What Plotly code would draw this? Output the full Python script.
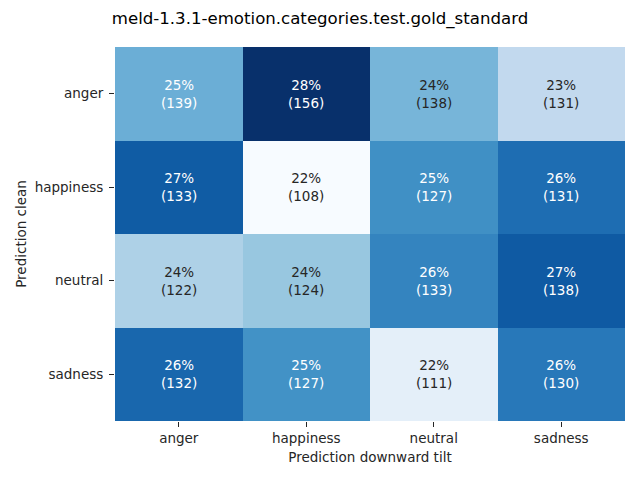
import plotly.graph_objects as go

categories = ["anger", "happiness", "neutral", "sadness"]
counts = [
    [139, 156, 138, 131],
    [133, 108, 127, 131],
    [122, 124, 133, 138],
    [132, 127, 111, 130],
]
title_text = "meld-1.3.1-emotion.categories.test.gold_standard"
x_label = "Prediction downward tilt"
y_label = "Prediction clean"

blues = ["#f7fbff", "#deebf7", "#c6dbef", "#9ecae1", "#6baed6",
         "#4292c6", "#2171b5", "#08519c", "#08306b"]
colorscale = [[i / 8, c] for i, c in enumerate(blues)]

pct = [[v / sum(row) * 100 for v in row] for row in counts]
vmin = min(min(r) for r in pct)
vmax = max(max(r) for r in pct)


def hex2rgb(h):
    return [int(h[i:i + 2], 16) for i in (1, 3, 5)]


def color_at(t):
    t = max(0.0, min(1.0, t)) * 8
    i = min(int(t), 7)
    f = t - i
    a, b = hex2rgb(blues[i]), hex2rgb(blues[i + 1])
    return [a[k] + (b[k] - a[k]) * f for k in range(3)]


def lum(rgb):
    out = []
    for c in rgb:
        c = c / 255
        out.append(c / 12.92 if c <= 0.03928 else ((c + 0.055) / 1.055) ** 2.4)
    return 0.2126 * out[0] + 0.7152 * out[1] + 0.0722 * out[2]


fig = go.Figure(go.Heatmap(
    z=pct, x=categories, y=categories,
    colorscale=colorscale, zmin=vmin, zmax=vmax,
    showscale=False, hoverinfo="skip",
))

for i, rc in enumerate(categories):
    for j, cc in enumerate(categories):
        t = (pct[i][j] - vmin) / (vmax - vmin)
        col = "#262626" if lum(color_at(t)) > 0.408 else "white"
        fig.add_annotation(
            x=cc, y=rc, text=f"{pct[i][j]:.0f}%<br>({counts[i][j]})",
            showarrow=False, font=dict(size=13.5, color=col,
                                       family="DejaVu Sans"),
        )

# the page body has an 8px margin, so the figure is offset by (8, 8)
fig.update_layout(
    width=640, height=480,
    margin=dict(l=107, r=23, t=39, b=67, pad=0),
    plot_bgcolor="white", paper_bgcolor="white",
    font=dict(family="DejaVu Sans", size=13.5, color="#262626"),
    title=dict(text=title_text, x=0.4875, xanchor="center", y=0.979,
               yanchor="middle", font=dict(size=16.6, color="black")),
)
fig.update_xaxes(title=dict(text=x_label, standoff=7, font=dict(size=13.5)),
                 automargin=False,
                 ticks="outside", ticklen=5, tickcolor="#262626",
                 showgrid=False, zeroline=False, showline=False,
                 tickfont=dict(size=13.5))
fig.update_yaxes(title=dict(text=y_label, standoff=4, font=dict(size=13.5)),
                 automargin=False, autorange="reversed",
                 ticks="outside", ticklen=5, tickcolor="#262626",
                 ticklabelstandoff=3,
                 showgrid=False, zeroline=False, showline=False,
                 tickfont=dict(size=13.5))

fig.write_html("out.html")
